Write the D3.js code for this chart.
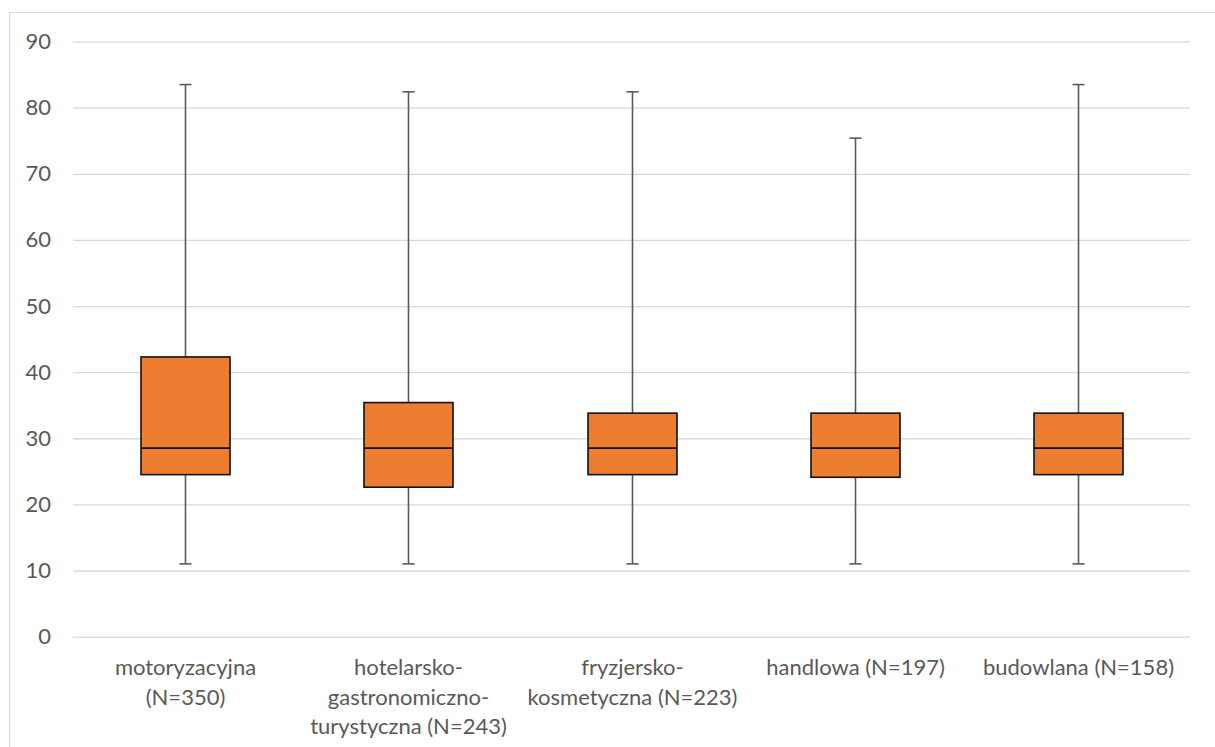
<!DOCTYPE html>
<html><head><meta charset="utf-8">
<script src="https://cdn.jsdelivr.net/npm/d3@7"></script>
<style>body{margin:0;background:#fff}svg{display:block}</style>
</head><body>
<script>
const categories = ["motoryzacyjna (N=350)","hotelarsko-gastronomiczno-turystyczna (N=243)","fryzjersko-kosmetyczna (N=223)","handlowa (N=197)","budowlana (N=158)"];
const categoryLines = [["motoryzacyjna","(N=350)"],["hotelarsko-","gastronomiczno-","turystyczna (N=243)"],["fryzjersko-","kosmetyczna (N=223)"],["handlowa (N=197)"],["budowlana (N=158)"]];
const minValues = [11.0, 11.0, 11.0, 11.0, 11.0];
const q1Values = [24.5, 22.6, 24.5, 24.1, 24.5];
const medianValues = [28.5, 28.5, 28.5, 28.5, 28.5];
const q3Values = [42.3, 35.4, 33.8, 33.8, 33.8];
const maxValues = [83.5, 82.4, 82.4, 75.4, 83.5];
const yTicks = [0,10,20,30,40,50,60,70,80,90];

const W=1215,H=747;
const svg=d3.select("body").append("svg").attr("width",W).attr("height",H);
svg.append("rect").attr("x",9.5).attr("y",12.5).attr("width",1220).attr("height",760).attr("fill","#fff").attr("stroke","#d9d9d9").attr("stroke-width",1);

const x=d3.scaleBand().domain(categories).range([73,1190]).paddingInner(0).paddingOuter(0);
const y=d3.scaleLinear().domain([0,90]).range([636.6,41.6]);
const font="Lato, 'Open Sans', sans-serif";

const yAxis=svg.append("g").attr("transform","translate(73,0)")
  .call(d3.axisLeft(y).tickValues(yTicks).tickSize(-(1190-73)).tickPadding(22));
yAxis.select(".domain").remove();
yAxis.selectAll(".tick line").attr("stroke","#d9d9d9").attr("stroke-width",1.3);
yAxis.selectAll(".tick text").attr("fill","#595959").attr("font-family",font).attr("font-size","22px");

const boxW=89, capW=12;
const g=svg.append("g");
categories.forEach((c,i)=>{
  const cx=Math.round(x(c)+x.bandwidth()/2)+0.5;
  const gg=g.append("g");
  gg.append("line").attr("x1",cx).attr("x2",cx).attr("y1",y(maxValues[i])).attr("y2",y(q3Values[i])).attr("stroke","#595959").attr("stroke-width",1.6);
  gg.append("line").attr("x1",cx).attr("x2",cx).attr("y1",y(q1Values[i])).attr("y2",y(minValues[i])).attr("stroke","#595959").attr("stroke-width",1.6);
  gg.append("line").attr("x1",cx-capW/2).attr("x2",cx+capW/2).attr("y1",y(maxValues[i])).attr("y2",y(maxValues[i])).attr("stroke","#595959").attr("stroke-width",1.6);
  gg.append("line").attr("x1",cx-capW/2).attr("x2",cx+capW/2).attr("y1",y(minValues[i])).attr("y2",y(minValues[i])).attr("stroke","#595959").attr("stroke-width",1.6);
  gg.append("rect").attr("x",cx-boxW/2).attr("width",boxW).attr("y",y(q3Values[i])).attr("height",y(q1Values[i])-y(q3Values[i]))
    .attr("fill","#ED7D31").attr("stroke","#111").attr("stroke-width",1.6);
  gg.append("line").attr("x1",cx-boxW/2).attr("x2",cx+boxW/2).attr("y1",y(medianValues[i])).attr("y2",y(medianValues[i])).attr("stroke","#111").attr("stroke-width",1.8);
  const t=gg.append("text").attr("text-anchor","middle").attr("fill","#595959").attr("font-family",font).attr("font-size","22px");
  categoryLines[i].forEach((ln,k)=>{
    t.append("tspan").attr("x",cx).attr("y",675+k*29.5).text(ln);
  });
});
</script>
</body></html>
